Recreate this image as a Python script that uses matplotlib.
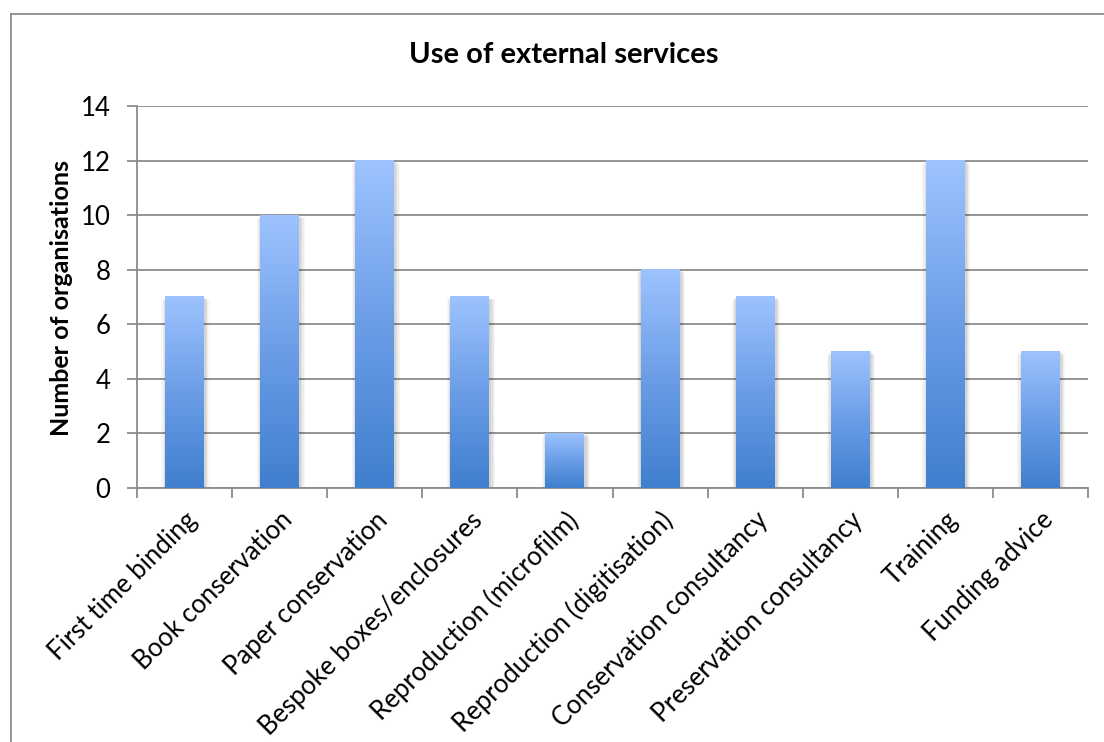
import numpy as np
import matplotlib
matplotlib.use("Agg")
import matplotlib.pyplot as plt
from matplotlib.colors import LinearSegmentedColormap
from matplotlib.patches import Rectangle
from matplotlib.lines import Line2D

categories = ["First time binding", "Book conservation", "Paper conservation",
              "Bespoke boxes/enclosures", "Reproduction (microfilm)",
              "Reproduction (digitisation)", "Conservation consultancy",
              "Preservation consultancy", "Training", "Funding advice"]
values = [7, 10, 12, 7, 2, 8, 7, 5, 12, 5]
yticks = [0, 2, 4, 6, 8, 10, 12, 14]
title = "Use of external services"
ylabel = "Number of organisations"

plt.rcParams['font.family'] = ['Lato', 'DejaVu Sans']

W, H = 1104, 742
fig = plt.figure(figsize=(W / 100, H / 100), dpi=100)
ax_left, ax_right, ax_top, ax_bot = 137, 1088, 106, 488
ax = fig.add_axes([ax_left / W, 1 - ax_bot / H, (ax_right - ax_left) / W, (ax_bot - ax_top) / H])

cmap = LinearSegmentedColormap.from_list("g", ["#3F7FCE", "#6B9DE6", "#9DC3FF"])
grad = np.linspace(0, 1, 256).reshape(-1, 1)

x = np.arange(len(categories))
bw = 0.41
bars = ax.bar(x, values, width=bw, color="none", edgecolor="none", zorder=3)
for b in bars:
    x0, y0 = b.get_x(), b.get_y()
    w, h = b.get_width(), b.get_height()
    # soft shadow
    for i, a in enumerate([0.06, 0.05, 0.04, 0.03]):
        dx = 0.012 * (i + 1)
        ax.add_patch(Rectangle((x0 - dx + 0.01, y0 - 0.06 * (i + 1)), w + 2 * dx, h + 0.03 * (i + 1),
                               facecolor="black", alpha=a, edgecolor="none", zorder=2.5))
    ax.imshow(grad, extent=(x0, x0 + w, y0, y0 + h), origin="lower", cmap=cmap,
              aspect="auto", zorder=3, interpolation="bilinear")

ax.set_xlim(-0.5, len(categories) - 0.5)
ax.set_ylim(0, 14)
ax.set_yticks(yticks)
ax.set_yticklabels([str(v) for v in yticks], fontsize=18.5)
ax.set_xticks(x)
ax.set_xticklabels(categories, rotation=45, ha="right", rotation_mode="anchor", fontsize=18.5)
ax.tick_params(axis="x", length=0, pad=14)
ax.set_xticks(np.arange(-0.5, len(categories), 1.0), minor=True)
ax.tick_params(axis="x", which="minor", length=7, width=1.3, color="#8C8C8C", direction="out")
ax.tick_params(axis="y", length=7, width=1.3, color="#8C8C8C", direction="out", pad=12)
ax.grid(axis="y", color="#8C8C8C", linewidth=1.3, zorder=1)
ax.set_axisbelow(True)
for s in ["top", "right"]:
    ax.spines[s].set_visible(False)
for s in ["left", "bottom"]:
    ax.spines[s].set_color("#8C8C8C")
    ax.spines[s].set_linewidth(1.3)

ax.set_ylabel(ylabel, fontsize=18, fontweight="bold", ha="center", va="center")
ax.yaxis.set_label_coords((62 - ax_left) / (ax_right - ax_left), 0.5 - 0.0 )
ax.yaxis.label.set_position(((62 - ax_left) / (ax_right - ax_left), (488 - 298) / (ax_bot - ax_top)))
fig.text(564 / W, 1 - 55 / H, title, fontsize=21, fontweight="bold", ha="center", va="center")

# outer frame (extends beyond image on right/bottom)
fig.add_artist(Line2D([11 / W, 11 / W], [1 - 14 / H, 0], transform=fig.transFigure,
                      color="#8C8C8C", linewidth=1.3))
fig.add_artist(Line2D([11 / W, 1], [1 - 14 / H, 1 - 14 / H], transform=fig.transFigure,
                      color="#8C8C8C", linewidth=1.3))

fig.savefig("out.png", dpi=100)
